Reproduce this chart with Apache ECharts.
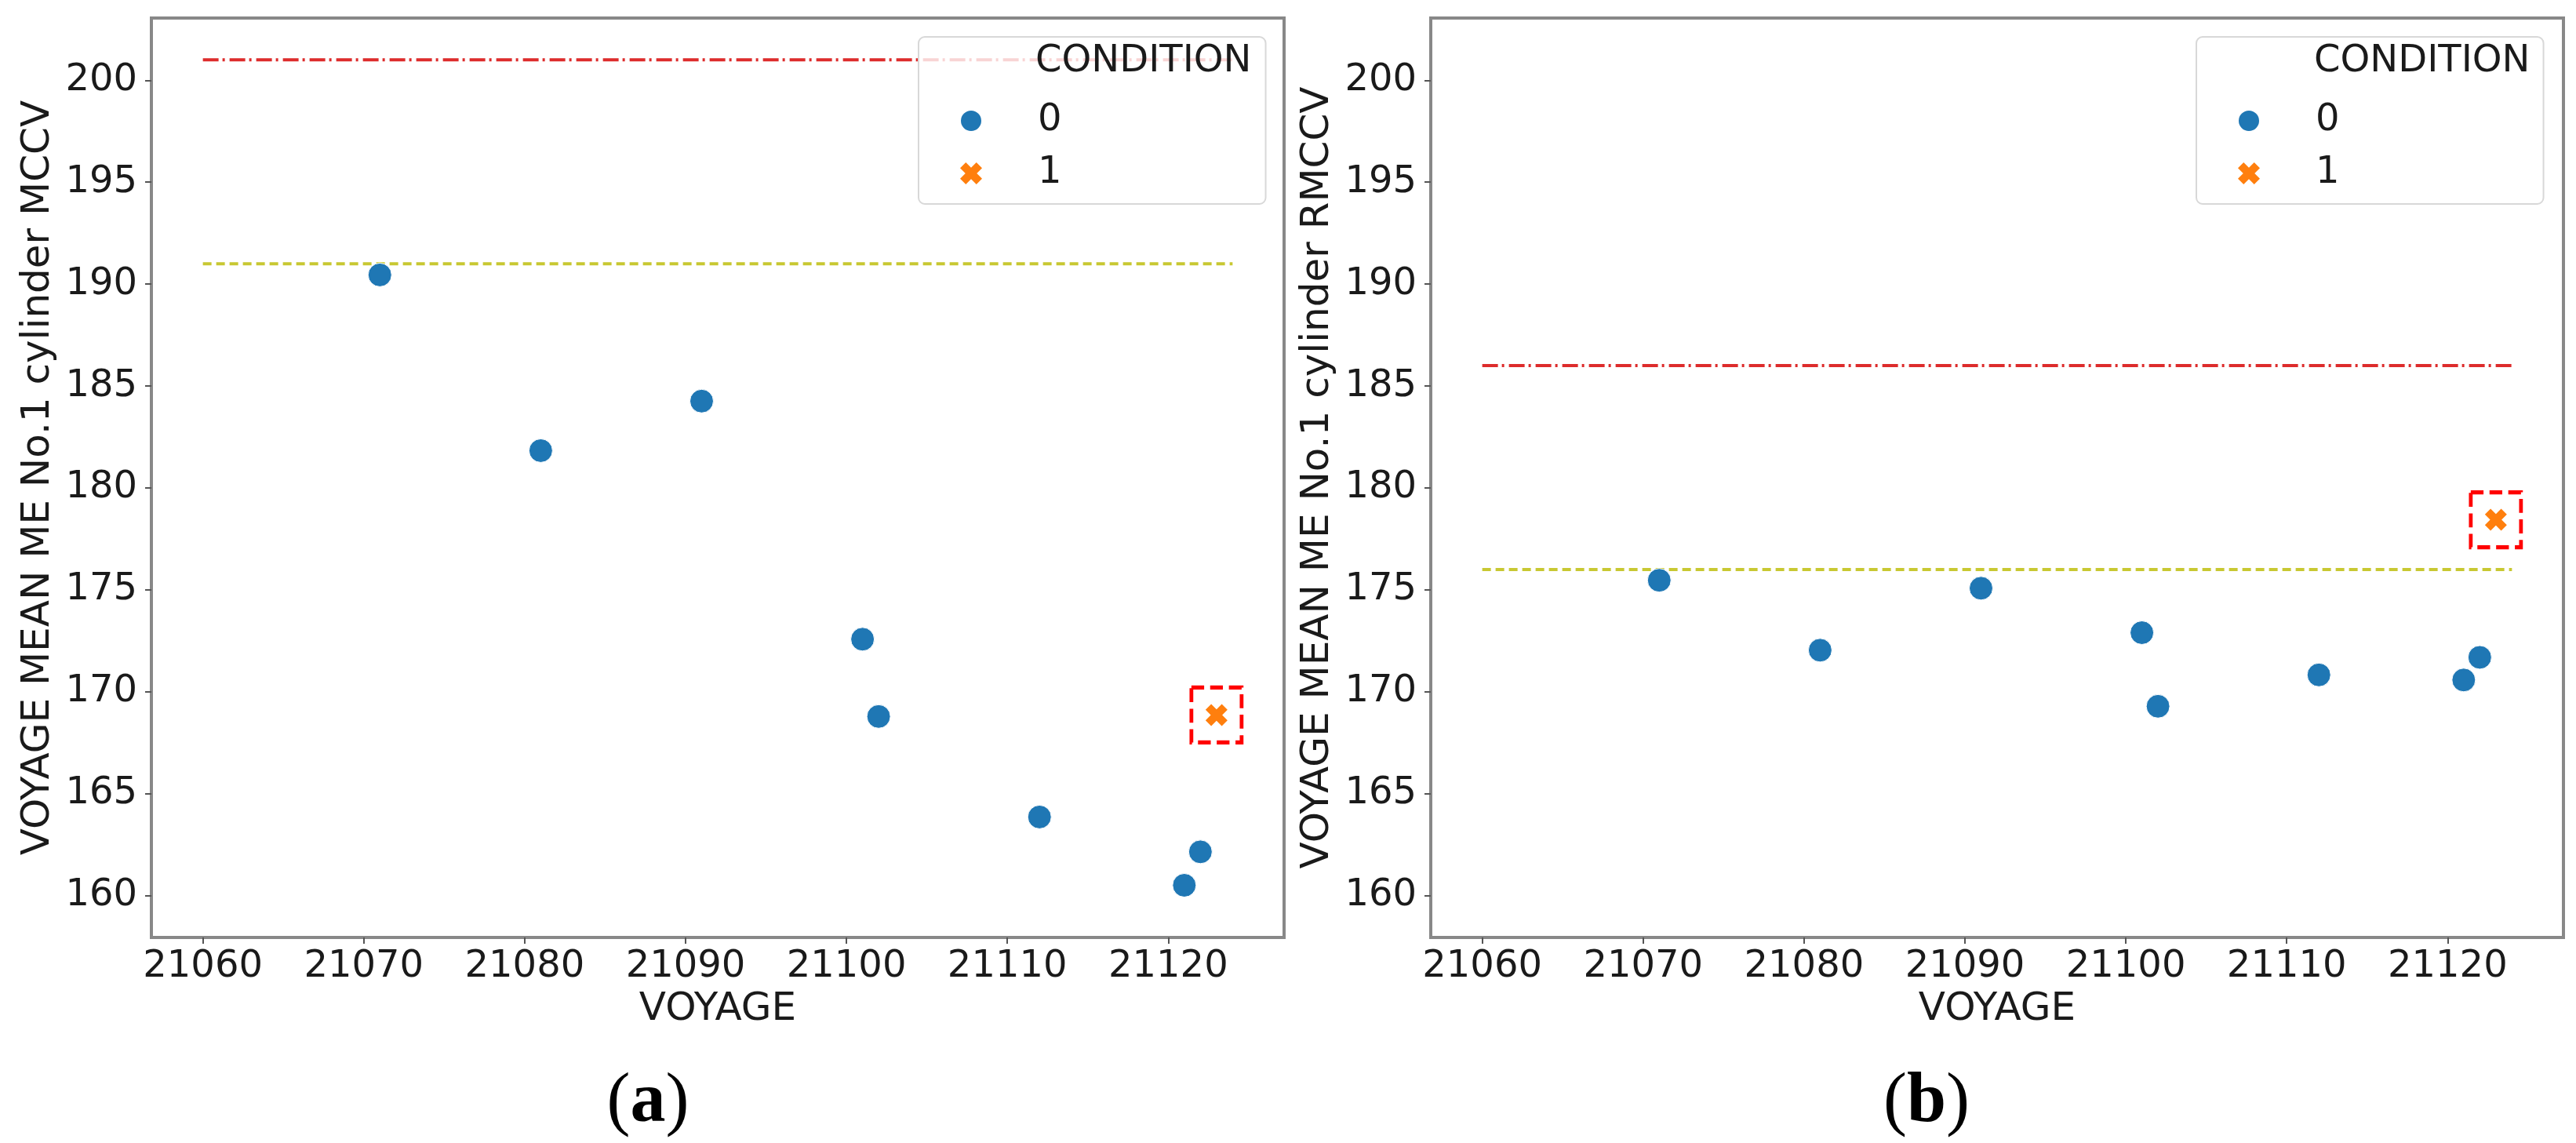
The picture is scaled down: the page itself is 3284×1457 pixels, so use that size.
<!DOCTYPE html>
<html>
<head>
<meta charset="utf-8">
<script src="https://cdn.jsdelivr.net/npm/echarts@6/dist/echarts.min.js"></script>
<style>
html,body{margin:0;padding:0;background:#fff;}
#chart{width:3284px;height:1457px;}
</style>
</head>
<body>
<div id="chart"></div>
<script>
// ---- data ----
const voyagesCond0 = [21071, 21081, 21091, 21101, 21102, 21112, 21121, 21122];
const voyagesCond1 = [21123];
const mccvCond0 = [190.45, 181.83, 184.26, 172.58, 168.79, 163.86, 160.51, 162.15];
const mccvCond1 = [168.86];
const rmccvCond0 = [175.47, 172.04, 175.08, 172.90, 169.29, 170.83, 170.58, 171.69];
const rmccvCond1 = [178.44];
const mccvLimits = [201, 191];     // upper (red dash-dot), lower (yellow dashed)
const rmccvLimits = [186, 176];
const limitSpan = [21060, 21124];
const xTicks = [21060, 21070, 21080, 21090, 21100, 21110, 21120];
const yTicks = [160, 165, 170, 175, 180, 185, 190, 195, 200];
const xRange = [21056.8, 21127.2];
const yRange = [157.95, 203.05];
const legendNames = ['0', '1'];
const yNames = ['VOYAGE MEAN ME No.1 cylinder MCCV', 'VOYAGE MEAN ME No.1 cylinder RMCCV'];
const xName = 'VOYAGE';
const panelLabels = ['a', 'b'];

// ---- styling ----
const FONT = 'DejaVu Sans';
const BLUE = '#1f77b4', ORANGE = '#ff7f0e';
const RED = '#dd2c2c', YELLOW = '#c8c832';
const X_PATH = 'path://M0,2.6 L2.6,0 L5,2.4 L7.4,0 L10,2.6 L7.6,5 L10,7.4 L7.4,10 L5,7.6 L2.6,10 L0,7.4 L2.4,5 Z';

const grids = [
  {left: 193, top: 23, width: 1444, height: 1172},
  {left: 1824, top: 23, width: 1444, height: 1172}
];
const legendLeft = [1171, 2800];
const titleLeft = [1320, 2950];
const captionX = [826, 2456];

function zip(xs, ys) { return xs.map((x, i) => [x, ys[i]]); }

const panels = [
  {c0: mccvCond0, c1: mccvCond1, lim: mccvLimits},
  {c0: rmccvCond0, c1: rmccvCond1, lim: rmccvLimits}
];

const grid = grids.map(g => Object.assign({show: true, borderColor: '#888', borderWidth: 4, backgroundColor: '#fff'}, g));

const xAxis = panels.map((p, i) => ({
  type: 'value', gridIndex: i, min: xRange[0], max: xRange[1],
  name: xName, nameLocation: 'middle', nameGap: 62,
  nameTextStyle: {fontFamily: FONT, fontSize: 50, color: '#1a1a1a'},
  axisLine: {show: false},
  axisTick: {show: true, inside: false, length: 8, customValues: xTicks, lineStyle: {color: '#555', width: 2}},
  axisLabel: {customValues: xTicks, formatter: v => String(Math.round(v)), fontFamily: FONT, fontSize: 48, color: '#1a1a1a', margin: 14},
  splitLine: {show: false}
}));

const yAxis = panels.map((p, i) => ({
  type: 'value', gridIndex: i, min: yRange[0], max: yRange[1],
  name: yNames[i], nameLocation: 'middle', nameRotate: 90, nameGap: 119,
  nameTextStyle: {fontFamily: FONT, fontSize: 50, color: '#1a1a1a'},
  axisLine: {show: false},
  axisTick: {show: true, inside: false, length: 8, customValues: yTicks, lineStyle: {color: '#555', width: 2}},
  axisLabel: {customValues: yTicks, formatter: v => String(Math.round(v)), fontFamily: FONT, fontSize: 48, color: '#1a1a1a', margin: 18},
  splitLine: {show: false}
}));

const series = [];
panels.forEach((p, i) => {
  series.push({
    type: 'line', name: 'upper', xAxisIndex: i, yAxisIndex: i, symbol: 'none', silent: true,
    data: limitSpan.map(x => [x, p.lim[0]]),
    lineStyle: {color: RED, width: 4, type: [20, 5, 3, 6]}, z: 1
  });
  series.push({
    type: 'line', name: 'lower', xAxisIndex: i, yAxisIndex: i, symbol: 'none', silent: true,
    data: limitSpan.map(x => [x, p.lim[1]]),
    lineStyle: {color: YELLOW, width: 4, type: [11, 6]}, z: 1
  });
  series.push({
    type: 'scatter', name: legendNames[0], xAxisIndex: i, yAxisIndex: i,
    data: zip(voyagesCond0, p.c0), symbol: 'circle', symbolSize: 30,
    itemStyle: {color: BLUE, borderColor: '#fff', borderWidth: 1, opacity: 1}, z: 3
  });
  series.push({
    type: 'scatter', name: legendNames[1], xAxisIndex: i, yAxisIndex: i,
    data: zip(voyagesCond1, p.c1), symbol: X_PATH, symbolSize: 28,
    itemStyle: {color: ORANGE, opacity: 1}, z: 3
  });
  series.push({
    type: 'scatter', name: 'highlight', xAxisIndex: i, yAxisIndex: i, silent: true,
    data: zip(voyagesCond1, p.c1), symbol: 'rect', symbolSize: [64, 70],
    itemStyle: {color: 'rgba(0,0,0,0)', borderColor: '#ff0000', borderWidth: 5, borderType: [17, 8], opacity: 1}, z: 3
  });
});

const legend = legendLeft.map(l => ({
  data: legendNames, orient: 'vertical', left: l, top: 47,
  padding: [83, 260, 15, 52], itemGap: 19, itemWidth: 28, itemHeight: 28,
  backgroundColor: 'rgba(255,255,255,0.8)', borderColor: '#d8d8d8', borderWidth: 2, borderRadius: 8,
  textStyle: {fontFamily: FONT, fontSize: 48, color: '#1a1a1a', padding: [0, 0, 0, 66]},
  selectedMode: false, z: 10
}));

const graphic = [];
titleLeft.forEach(x => graphic.push({
  type: 'text', left: x, top: 83 - 28, z: 100,
  style: {text: 'CONDITION', fontFamily: FONT, fontSize: 48, fill: '#1a1a1a'}
}));
panelLabels.forEach((lab, i) => graphic.push({
  type: 'text', x: captionX[i], y: 1406, z: 100,
  style: {
    text: '{p|(}{b|' + lab + '}{p|)}', align: 'center', verticalAlign: 'middle',
    rich: {
      p: {fontFamily: 'Liberation Serif', fontSize: 90, fill: '#000'},
      b: {fontFamily: 'Liberation Serif', fontSize: 90, fontWeight: 'bold', fill: '#000'}
    }
  }
}));

const chart = echarts.init(document.getElementById('chart'), null, {renderer: 'canvas'});
chart.setOption({
  animation: false, backgroundColor: '#fff',
  grid, xAxis, yAxis, series, legend, graphic
});
</script>
</body>
</html>
